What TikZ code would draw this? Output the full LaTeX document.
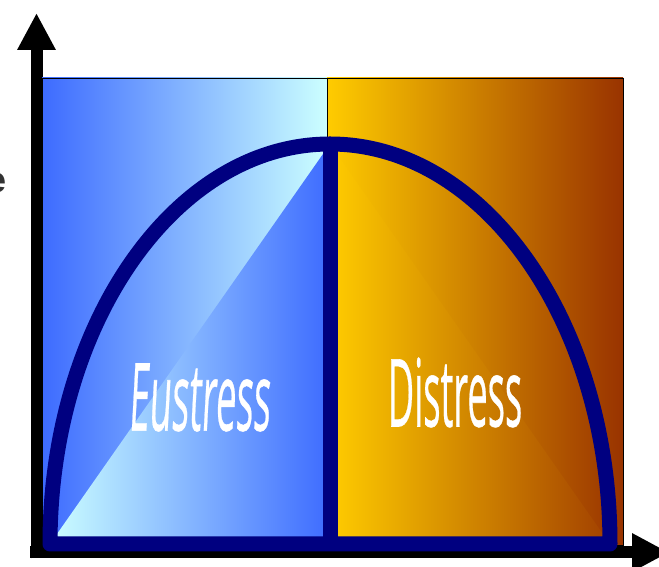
\documentclass[tikz,border=0pt]{standalone}
\usepackage{fontspec}
\setmainfont{Liberation Sans}
\newfontfamily\stressfont[FakeBold=0.6]{Open Sans}
\newfontfamily\stressslant[FakeSlant=0.14,FakeBold=0.6]{Open Sans}
\usepackage{tikz}
\usetikzlibrary{positioning,arrows.meta}
\definecolor{bluedeep}{HTML}{3D6BFF}
\definecolor{cyanpale}{HTML}{CCFFFF}
\definecolor{goldbright}{HTML}{FFCC00}
\definecolor{rustbrown}{HTML}{993300}
\definecolor{rustsoft}{HTML}{A24000}
\definecolor{archnavy}{HTML}{000080}
\definecolor{labelgray}{HTML}{333333}
\tikzset{
  axisarrow/.style={-{Triangle[length=37pt,width=36pt]}, line width=12pt, black},
  archline/.style={draw=archnavy, line width=15pt, line join=round},
  framebox/.style={draw=black, line width=0.8pt},
  stresslabel/.style={text=white, inner sep=0pt, font=\fontsize{94}{94}\selectfont}
}
\newcommand{\squeeze}[1]{\scalebox{0.385}[1]{#1}}

\begin{document}
\begin{tikzpicture}[x=1pt, y=1pt]
  \useasboundingbox (0,0) rectangle (659,567);
  % axes
  \coordinate (origin) at (36.5,8.5);
  \coordinate (ytop) at (36.5,554);
  \coordinate (xleft) at (30,14.5);
  \coordinate (xright) at (669,14.5);
  \draw[axisarrow] (origin) -- (ytop);
  \draw[axisarrow] (xleft) -- (xright);
  % background halves
  \shade[left color=bluedeep, right color=cyanpale] (42,22) rectangle (327,489);
  \shade[left color=goldbright, right color=rustbrown] (327,22) rectangle (623,489);
  \draw[framebox] (42,22) rectangle (623,489);
  \draw[framebox] (327,22) -- (327,489);
  % inner triangles
  \coordinate (top) at (330,423);
  \coordinate (bl) at (50,23);
  \coordinate (bm) at (330,23);
  \coordinate (br) at (610,23);
  \shade[left color=cyanpale, right color=bluedeep] (bl) -- (top) -- (bm) -- cycle;
  \shade[left color=goldbright, right color=rustsoft] (top) -- (br) -- (bm) -- cycle;
  % arch
  \draw[archline] (bl) arc[start angle=180, end angle=0, x radius=280, y radius=400] -- cycle;
  \draw[archline] (top) -- (bm);
  % labels
  \node[stresslabel] (eu) at (199,169.5) {\stressslant\squeeze{Eustress}};
  \node[stresslabel] (di) at (455,174.5) {\stressfont\squeeze{Distress}};
  \node[anchor=east, inner sep=0pt, text=labelgray, font=\bfseries\fontsize{36}{36}\selectfont] (cut) at (7,384) {e};
\end{tikzpicture}
\end{document}
